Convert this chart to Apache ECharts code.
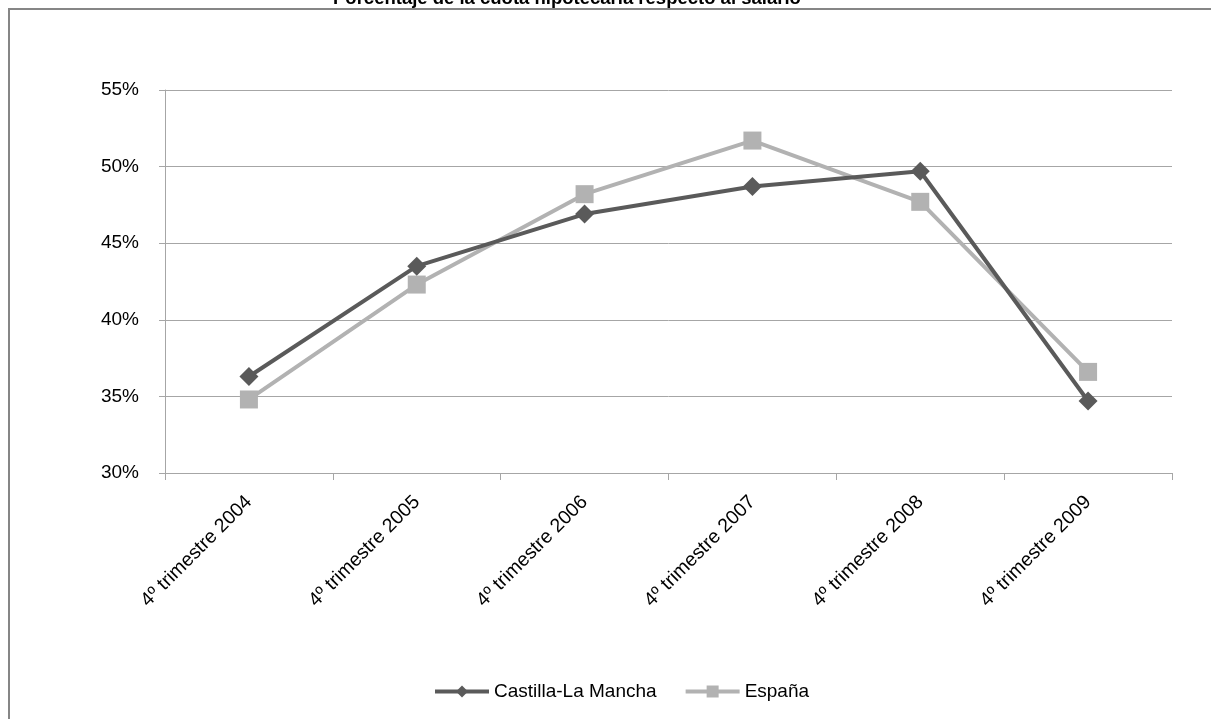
<!DOCTYPE html>
<html>
<head>
<meta charset="utf-8">
<style>
  html, body { margin: 0; padding: 0; background: #fff; }
  #chart { width: 1211px; height: 719px; }
</style>
<script src="https://cdn.jsdelivr.net/npm/echarts@6/dist/echarts.min.js"></script>
</head>
<body>
<div id="chart"></div>
<script>
// Cuota hipotecaria como porcentaje del salario, cuarto trimestre de cada año
const categories = ['4º trimestre 2004', '4º trimestre 2005', '4º trimestre 2006',
                    '4º trimestre 2007', '4º trimestre 2008', '4º trimestre 2009'];
const castillaLaMancha = [36.3, 43.5, 46.9, 48.7, 49.7, 34.7];
const espana = [34.8, 42.3, 48.2, 51.7, 47.7, 36.6];
const seriesNames = ['Castilla-La Mancha', 'España'];
const chartTitle = 'Porcentaje de la cuota hipotecaria respecto al salario';

const FONT = '"Liberation Sans", Arial, sans-serif';
const GRID_GREY = '#a6a6a6';

const chart = echarts.init(document.getElementById('chart'), null, { renderer: 'canvas' });

chart.setOption({
  backgroundColor: '#ffffff',
  animation: false,
  title: {
    text: chartTitle,
    left: 333,
    top: -11,
    padding: 0,
    textStyle: { fontFamily: FONT, fontSize: 18.5, fontWeight: 'bold', color: '#000' }
  },
  graphic: [{
    type: 'rect',
    z: 100,
    shape: { x: 9, y: 9, width: 1230, height: 730 },
    style: { fill: 'none', stroke: '#868686', lineWidth: 2 },
    silent: true
  }],
  legend: {
    left: 428,
    top: 677,
    itemWidth: 54,
    itemHeight: 15,
    itemGap: 27,
    lineStyle: { width: 4 },
    textStyle: { fontFamily: FONT, fontSize: 19, color: '#000' },
    data: seriesNames
  },
  grid: { left: 165, right: 39, top: 90, bottom: 246, containLabel: false },
  xAxis: {
    type: 'category',
    data: categories,
    boundaryGap: true,
    axisLine: { show: true, lineStyle: { color: GRID_GREY, width: 1 } },
    axisTick: { show: true, length: 7, alignWithLabel: false, lineStyle: { color: GRID_GREY } },
    axisLabel: {
      rotate: 45,
      margin: 26,
      interval: 0,
      fontFamily: FONT,
      fontSize: 19.5,
      color: '#000'
    },
    splitLine: { show: false }
  },
  yAxis: {
    type: 'value',
    min: 30,
    max: 55,
    interval: 5,
    axisLine: { show: true, lineStyle: { color: GRID_GREY, width: 1 } },
    axisTick: { show: true, length: 6, lineStyle: { color: GRID_GREY } },
    axisLabel: {
      formatter: '{value}%',
      margin: 26,
      fontFamily: FONT,
      fontSize: 19,
      color: '#000'
    },
    splitLine: { show: true, lineStyle: { color: GRID_GREY, width: 1 } }
  },
  series: [
    {
      name: seriesNames[0],
      type: 'line',
      data: castillaLaMancha,
      symbol: 'diamond',
      symbolSize: 19,
      z: 3,
      lineStyle: { color: '#5a5a5a', width: 4 },
      itemStyle: { color: '#5a5a5a' }
    },
    {
      name: seriesNames[1],
      type: 'line',
      data: espana,
      symbol: 'rect',
      symbolSize: 18,
      z: 2,
      lineStyle: { color: '#b2b2b2', width: 4 },
      itemStyle: { color: '#b2b2b2' }
    }
  ]
});
</script>
</body>
</html>
